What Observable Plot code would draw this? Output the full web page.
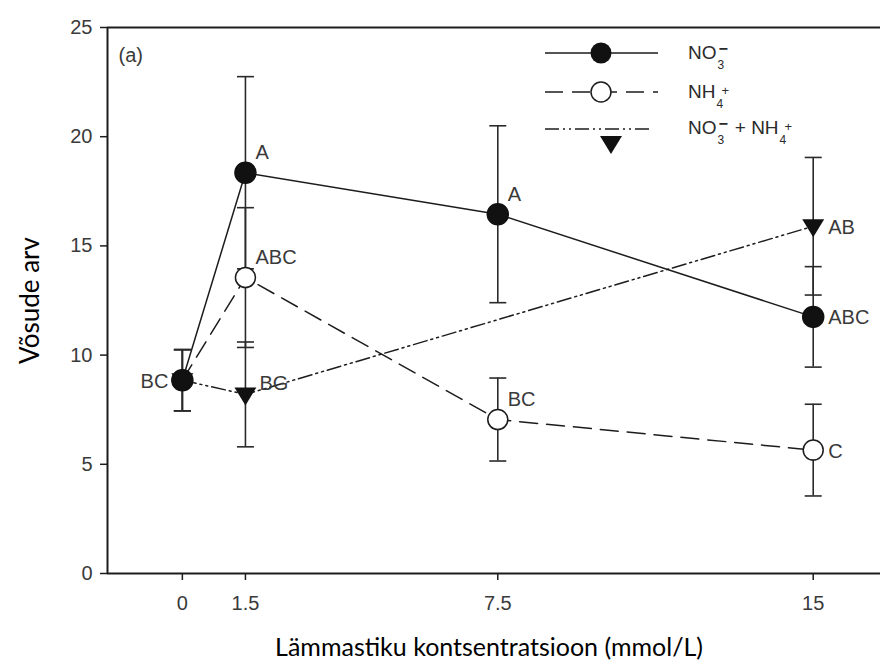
<!DOCTYPE html>
<html><head><meta charset="utf-8">
<script src="https://cdn.jsdelivr.net/npm/d3@7"></script>
<script src="https://cdn.jsdelivr.net/npm/@observablehq/plot@0.6"></script>
<style>
body{margin:0;background:#fff}
#wrap{position:relative;width:880px;height:671px}
#legend{position:absolute;left:540px;top:35px;width:320px;height:125px;font-family:"Liberation Sans",Arial,sans-serif;font-size:19px;color:#2a2a2a}
#legend .t{position:absolute;left:148px;white-space:nowrap;line-height:22px}
.ss{display:inline-block;position:relative;width:13px;height:10px}
.ss .sb{position:absolute;left:1px;top:5px;font-size:12px}
.ss .sp{position:absolute;left:2px;top:-11px;font-size:16px;font-weight:bold}
.ss .pl{position:absolute;left:6px;top:-8px;font-size:13px}
</style></head>
<body><div id="wrap"><div id="chart"></div><div id="legend"></div></div>
<script>
// ---- data ----
const concentrations = [0, 1.5, 7.5, 15];
const no3Mean = [8.85, 18.35, 16.45, 11.75];
const no3Err  = [1.4, 4.4, 4.05, 2.3];
const nh4Mean = [8.85, 13.55, 7.05, 5.65];
const nh4Err  = [1.4, 3.2, 1.9, 2.1];
const mixConc = [0, 1.5, 15];
const mixMean = [8.85, 8.2, 15.9];
const mixErr  = [1.4, 2.4, 3.15];
const no3Labels = ["BC", "A", "A", "ABC"];
const nh4Labels = ["", "ABC", "BC", "C"];
const mixLabels = ["", "BG", "AB"];
const yTicks = [0, 5, 10, 15, 20, 25];
const xTicks = [0, 1.5, 7.5, 15];
const xTickLabels = ["0", "1.5", "7.5", "15"];

// ---- build tables ----
function rows(series, xsArr, means, errs, labels) {
  return xsArr.map((x, i) => ({series, x, y: means[i], lo: means[i] - errs[i], hi: means[i] + errs[i], label: labels[i], i}));
}
const no3 = rows("no3", concentrations, no3Mean, no3Err, no3Labels);
const nh4 = rows("nh4", concentrations, nh4Mean, nh4Err, nh4Labels);
const mix = rows("mix", mixConc, mixMean, mixErr, mixLabels);
const all = [...no3, ...nh4, ...mix];

// label placement (style, kept in code)
const placement = {
  no3: ["left", "above", "above", "right"],
  nh4: [null, "above", "above", "right"],
  mix: [null, "rightHigh", "right"]
};
const placeStyle = {
  above: {dx: 10, dy: -20, textAnchor: "start"},
  right: {dx: 15, dy: 1, textAnchor: "start"},
  rightHigh: {dx: 14, dy: -11, textAnchor: "start"},
  left: {dx: -14, dy: 1, textAnchor: "end"}
};
all.forEach(d => d.place = placement[d.series][d.i]);

const capSymbol = {draw(ctx, size) { const w = Math.sqrt(size / Math.PI); ctx.moveTo(-w, 0); ctx.lineTo(w, 0); }};
const triDown = {draw(ctx, size) { const r = Math.sqrt(size / Math.PI); ctx.moveTo(-r * 1.22, -r * 0.78); ctx.lineTo(r * 1.22, -r * 0.78); ctx.lineTo(0, r * 1.22); ctx.closePath(); }};

const ink = "#1c1c1c";
const labelFont = {fontFamily: "Liberation Sans, Arial, sans-serif", fontSize: 20, fill: "#3a3a3a"};

const textMarks = Object.keys(placeStyle).map(p =>
  Plot.text(all.filter(d => d.place === p && d.label), {x: "x", y: "y", text: "label", ...placeStyle[p], ...labelFont}));

const chart = Plot.plot({
  width: 880, height: 671,
  marginLeft: 107, marginRight: 0, marginTop: 27, marginBottom: 98,
  style: {fontFamily: "Liberation Sans, Arial, sans-serif", fontSize: "20px", color: "#3a3a3a", background: "white"},
  x: {domain: [-1.78, 16.6]},
  y: {domain: [0, 25]},
  marks: [
    Plot.axisY({ticks: yTicks, tickSize: 7, tickPadding: 8, label: null, stroke: ink, strokeWidth: 1.5, fontSize: 20}),
    Plot.axisX({ticks: xTicks, tickFormat: d => xTickLabels[xTicks.indexOf(d)], tickSize: 7, tickPadding: 15, label: null, stroke: ink, strokeWidth: 1.5, fontSize: 20}),
    Plot.ruleY([0, 25], {stroke: ink, strokeWidth: 2}),
    Plot.ruleX([-1.78], {stroke: ink, strokeWidth: 2}),
    // series lines
    Plot.line(no3, {x: "x", y: "y", stroke: ink, strokeWidth: 1.5}),
    Plot.line(nh4, {x: "x", y: "y", stroke: ink, strokeWidth: 1.5, strokeDasharray: "18,9"}),
    Plot.line(mix, {x: "x", y: "y", stroke: ink, strokeWidth: 1.5, strokeDasharray: "14,4,2,4,2,4"}),
    // error bars
    Plot.ruleX(all, {x: "x", y1: "lo", y2: "hi", stroke: "#2a2a2a", strokeWidth: 1.6}),
    Plot.dot(all, {x: "x", y: "lo", symbol: capSymbol, r: 8.5, stroke: "#2a2a2a", strokeWidth: 1.6, fill: "none"}),
    Plot.dot(all, {x: "x", y: "hi", symbol: capSymbol, r: 8.5, stroke: "#2a2a2a", strokeWidth: 1.6, fill: "none"}),
    // markers
    Plot.dot(nh4, {x: "x", y: "y", r: 10, fill: "white", stroke: ink, strokeWidth: 1.5}),
    Plot.dot(no3, {x: "x", y: "y", r: 10.5, fill: "#111", stroke: "#111"}),
    Plot.dot(mix, {x: "x", y: "y", r: 9, symbol: triDown, fill: "#111", stroke: "none"}),
    ...textMarks,
    Plot.text(["(a)"], {frameAnchor: "top-left", dx: 11, dy: 20, textAnchor: "start", ...labelFont}),
    Plot.text(["Võsude arv"], {frameAnchor: "left", dx: -77, rotate: -90, textAnchor: "middle", fontFamily: "Lato, Open Sans, sans-serif", fontSize: 26, fill: "#000"}),
    Plot.text(["Lämmastiku kontsentratsioon (mmol/L)"], {frameAnchor: "bottom", dx: -5, dy: 82, textAnchor: "middle", fontFamily: "Lato, Open Sans, sans-serif", fontSize: 25, fill: "#000"})
  ]
});
document.getElementById("chart").append(chart);

// ---- legend (overlay inside plot area) ----
const legend = d3.select("#legend");
const sw = legend.append("svg").attr("width", 140).attr("height", 125).style("position", "absolute").style("left", 0).style("top", 0);
sw.append("line").attr("x1", 5).attr("x2", 118).attr("y1", 18).attr("y2", 18).attr("stroke", ink).attr("stroke-width", 1.5);
sw.append("circle").attr("cx", 61).attr("cy", 18).attr("r", 10.5).attr("fill", "#111");
sw.append("line").attr("x1", 5).attr("x2", 118).attr("y1", 57).attr("y2", 57).attr("stroke", ink).attr("stroke-width", 1.5).attr("stroke-dasharray", "18,9");
sw.append("circle").attr("cx", 61).attr("cy", 57).attr("r", 10).attr("fill", "white").attr("stroke", ink).attr("stroke-width", 1.5);
sw.append("line").attr("x1", 5).attr("x2", 112).attr("y1", 94).attr("y2", 94).attr("stroke", ink).attr("stroke-width", 1.5).attr("stroke-dasharray", "14,4,2,4,2,4");
sw.append("path").attr("d", d3.symbol(triDown, 81 * Math.PI)()).attr("transform", "translate(71,108)").attr("fill", "#111");
const no3Html = 'NO<span class="ss"><span class="sp">−</span><span class="sb">3</span></span>';
const nh4Html = 'NH<span class="ss"><span class="pl">+</span><span class="sb">4</span></span>';
legend.append("div").attr("class", "t").style("top", "7px").html(no3Html);
legend.append("div").attr("class", "t").style("top", "46px").html(nh4Html);
legend.append("div").attr("class", "t").style("top", "82px").html(no3Html + " + " + nh4Html);
</script>
</body></html>
